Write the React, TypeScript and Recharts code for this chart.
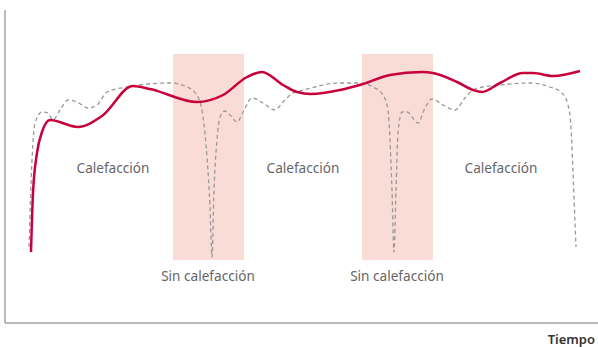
import React from 'react';
import { LineChart, Line, XAxis, YAxis, ReferenceArea, ReferenceDot } from 'recharts';

// tiempo / temperatura (unidades relativas, sin escala en el original)
const tiempoCalefaccion = [
  24, 27, 30, 37, 43, 48, 55, 63, 72, 83, 92, 102, 122, 142, 165, 182, 193, 198, 202, 205, 207, 209, 212,
  215, 220, 225, 232, 238, 247, 258, 270, 278, 288, 295, 335, 355, 368, 378, 383, 385, 387, 389, 391, 393,
  397, 402, 413, 420, 427, 438, 450, 460, 468, 478, 495, 525, 545, 557, 563, 566, 568, 570, 571,
];
const tempCalefaccion = [
  76, 163, 200, 211, 210, 203, 213, 223, 221, 215, 218, 231, 236, 239, 240, 236, 226, 206, 166, 116, 66, 133, 183,
  206, 212, 208, 201, 211, 225, 220, 213, 221, 230, 232, 240, 240, 236, 228, 213, 183, 133, 71, 133, 190,
  211, 211, 200, 215, 224, 218, 213, 225, 233, 236, 238, 240, 236, 230, 218, 196, 150, 100, 76,
];

const tiempoLG = [
  26, 28, 32, 37, 45, 73, 97, 128, 145, 192, 218, 242, 257, 278, 292, 306, 335, 358, 385, 417, 428, 452, 468,
  477, 495, 518, 528, 548, 575,
];
const tempLG = [
  71, 130, 170, 191, 203, 196, 207, 237, 234, 221, 228, 246, 251, 238, 231, 229, 233, 239, 248, 251, 250, 241, 233,
  231, 240, 250, 250, 247, 252,
];

const periodosSin = [
  [168, 239],
  [357, 428],
];
const etiquetasCalefaccion = [108, 298, 496];
const etiquetasSin = [203, 392];

const serieGris = tiempoCalefaccion.map((t, i) => ({ t, v: tempCalefaccion[i] }));
const serieRoja = tiempoLG.map((t, i) => ({ t, v: tempLG[i] }));

const labelStyle = { fill: '#666', fontSize: 13.6, fontFamily: 'Noto Sans, sans-serif' };

export default function App() {
  return (
    <div style={{ position: 'absolute', left: 0, top: 0 }}>
      <LineChart width={598} height={347} margin={{ top: 10, right: 0, left: 0, bottom: 0 }}>
        <XAxis
          type="number"
          dataKey="t"
          domain={[0, 593]}
          allowDataOverflow
          tick={false}
          tickLine={false}
          height={24}
          axisLine={{ stroke: '#777' }}
          label={{
            value: 'Tiempo',
            position: 'insideBottomRight',
            offset: 3,
            style: { fill: '#333', fontSize: 13, fontWeight: 600, fontFamily: 'Noto Sans, sans-serif' },
          }}
        />
        <YAxis type="number" domain={[0, 313]} allowDataOverflow tick={false} tickLine={false} width={5} axisLine={{ stroke: '#777' }} />
        {periodosSin.map(([a, b]) => (
          <ReferenceArea key={a} x1={a} x2={b} y1={63} y2={269} fill="#f9dcd6" fillOpacity={1} stroke="none" />
        ))}
        {etiquetasCalefaccion.map((x) => (
          <ReferenceDot key={x} x={x} y={155} r={0} fill="none" stroke="none" label={{ value: 'Calefacción', position: 'center', style: labelStyle }} />
        ))}
        {etiquetasSin.map((x) => (
          <ReferenceDot key={x} x={x} y={47} r={0} fill="none" stroke="none" label={{ value: 'Sin calefacción', position: 'center', style: labelStyle }} />
        ))}
        <Line data={serieGris} dataKey="v" type="monotone" stroke="#999" strokeWidth={1.3} strokeDasharray="4 3" dot={false} isAnimationActive={false} />
        <Line data={serieRoja} dataKey="v" type="monotone" stroke="#c8003c" strokeWidth={2.5} dot={false} isAnimationActive={false} />
      </LineChart>
    </div>
  );
}
